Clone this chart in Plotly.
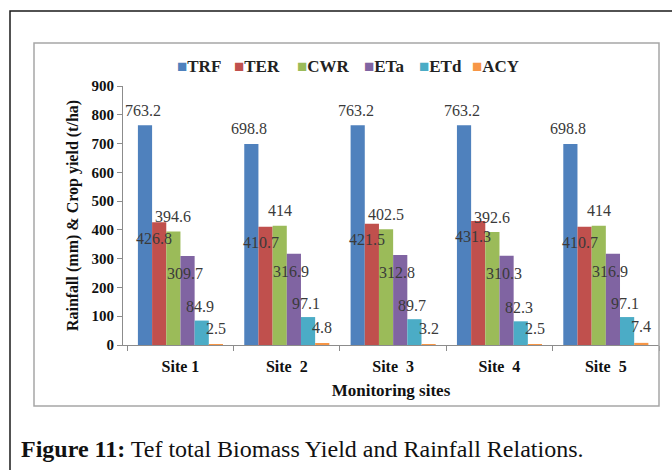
import plotly.graph_objects as go

# ---- data ----
sites = ["Site 1", "Site  2", "Site  3", "Site  4", "Site  5"]
series_names = ["TRF", "TER", "CWR", "ETa", "ETd", "ACY"]
trf = [763.2, 698.8, 763.2, 763.2, 698.8]
ter = [426.8, 410.7, 421.5, 431.3, 410.7]
cwr = [394.6, 414, 402.5, 392.6, 414]
eta = [309.7, 316.9, 312.8, 310.3, 316.9]
etd = [84.9, 97.1, 89.7, 82.3, 97.1]
acy = [2.5, 4.8, 3.2, 2.5, 7.4]
y_ticks = [0, 100, 200, 300, 400, 500, 600, 700, 800, 900]

series_values = [trf, ter, cwr, eta, etd, acy]
colors = ["#4F81BD", "#C0504D", "#9BBB59", "#8064A2", "#4BACC6", "#F79646"]
# value-label offsets in px (x, y) relative to each bar's top centre
label_offsets = [(-2, 15), (-5, -16), (0, 15), (-3, -18), (-2, 14), (0, 16)]

# ---- page geometry ----
W, H = 672, 470
ML, MR, MT, MB = 123, 13, 86, 125
PW, PH = W - ML - MR, H - MT - MB


def px(x):
    return (x - ML) / PW


def py(y):
    return (H - MB - y) / PH


SERIF = "Liberation Serif"
BARGAP = 0.2
n = len(series_names)
bar_w = (1 - BARGAP) / n

fig = go.Figure()
for j, (name, vals, col) in enumerate(zip(series_names, series_values, colors)):
    fig.add_trace(go.Bar(x=sites, y=vals, name=name, marker_color=col,
                         marker_line_width=0, showlegend=False))
    dx, dy = label_offsets[j]
    for i, v in enumerate(vals):
        fig.add_annotation(
            x=i + (j - (n - 1) / 2) * bar_w, y=v, xref="x", yref="y",
            text=f"{v:g}", showarrow=False, xanchor="center", yanchor="middle",
            xshift=dx, yshift=dy,
            font=dict(family=SERIF, size=16, color="#3a3a3a"))

# legend row
legend_x = [175, 232, 295, 362, 417, 470]
for name, col, lx in zip(series_names, colors, legend_x):
    fig.add_annotation(
        x=px(lx), y=py(67), xref="paper", yref="paper",
        text=f"<span style='color:{col}'>■</span>{name}",
        showarrow=False, xanchor="left", yanchor="middle",
        font=dict(family=SERIF, size=17, color="#222", weight="bold"))

# caption
fig.add_annotation(
    x=px(19), y=py(449), xref="paper", yref="paper",
    text="<b>Figure 11:</b> Tef total Biomass Yield and Rainfall Relations.",
    showarrow=False, xanchor="left", yanchor="middle",
    font=dict(family=SERIF, size=24, color="#111"))

# chart-area frame and outer page frame
fig.add_shape(type="rect", xref="paper", yref="paper",
              x0=px(34), x1=px(659), y0=py(406), y1=py(43),
              line=dict(color="#A6A6A6", width=1.5))
fig.add_shape(type="rect", xref="paper", yref="paper",
              x0=px(10), x1=px(720), y0=py(520), y1=py(11),
              line=dict(color="#1a1a1a", width=1.5))

fig.update_layout(
    width=W, height=H,
    margin=dict(l=ML, r=MR, t=MT, b=MB),
    paper_bgcolor="white", plot_bgcolor="white",
    barmode="group", bargap=BARGAP, bargroupgap=0,
    showlegend=False,
    font=dict(family=SERIF, color="#111"),
)
fig.update_xaxes(
    showline=True, linecolor="#8c8c8c", linewidth=1,
    ticks="outside", tickson="boundaries", ticklen=5, tickcolor="#8c8c8c",
    ticklabelstandoff=7,
    tickfont=dict(family=SERIF, size=16, color="#111", weight="bold"),
    title=dict(text="Monitoring sites", standoff=9,
               font=dict(family=SERIF, size=17, color="#111", weight="bold")),
    showgrid=False, zeroline=False,
)
fig.update_yaxes(
    range=[0, 900], tickvals=y_ticks,
    showline=True, linecolor="#8c8c8c", linewidth=1,
    ticks="outside", ticklen=5, tickcolor="#8c8c8c",
    tickfont=dict(family=SERIF, size=15, color="#111", weight="bold"),
    title=dict(text="Rainfall (mm) & Crop yield (t/ha)", standoff=8,
               font=dict(family=SERIF, size=16, color="#111", weight="bold")),
    showgrid=False, zeroline=False,
)

fig.write_html("out.html")
